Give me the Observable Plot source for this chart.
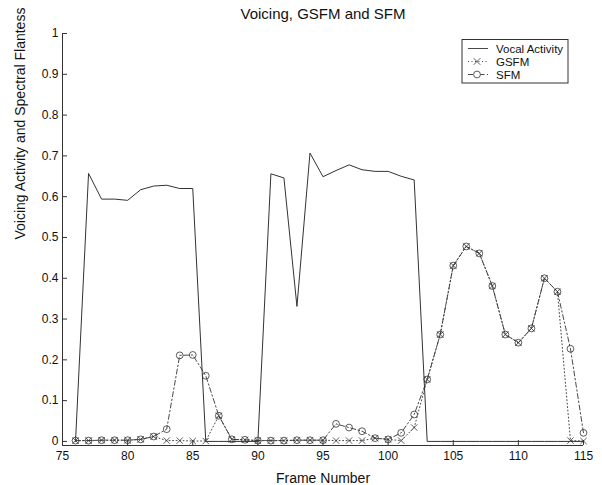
<!DOCTYPE html>
<html><head><meta charset="utf-8">
<script src="https://cdn.jsdelivr.net/npm/d3@7"></script>
<script src="https://cdn.jsdelivr.net/npm/@observablehq/plot@0.6"></script>
<style>body{margin:0;background:#fff;} #chart{width:602px;height:485px;}</style>
</head><body><div id="chart"></div>
<script>
const frames = [76,77,78,79,80,81,82,83,84,85,86,87,88,89,90,91,92,93,94,95,96,97,98,99,100,101,102,103,104,105,106,107,108,109,110,111,112,113,114,115];
const vocal = [0,0.657,0.594,0.594,0.591,0.617,0.626,0.628,0.620,0.620,0,0,0,0,0,0.656,0.646,0.331,0.707,0.649,0.664,0.678,0.666,0.662,0.662,0.650,0.641,0,0,0,0,0,0,0,0,0,0,0,0,0];
const gsfm = [0.002,0.002,0.003,0.003,0.003,0.005,0.012,0.002,0.002,0.001,0.001,0.063,0.005,0.004,0.002,0.002,0.002,0.003,0.003,0.003,0.002,0.002,0.002,0.008,0.005,0.002,0.034,0.152,0.262,0.431,0.478,0.461,0.381,0.262,0.242,0.277,0.400,0.367,0.002,0.001];
const sfm = [0.002,0.002,0.003,0.003,0.003,0.005,0.012,0.030,0.211,0.212,0.161,0.063,0.005,0.004,0.002,0.002,0.002,0.003,0.003,0.003,0.043,0.034,0.025,0.008,0.005,0.021,0.066,0.152,0.262,0.431,0.478,0.461,0.381,0.262,0.242,0.277,0.400,0.367,0.227,0.021];
const xTicks = [75,80,85,90,95,100,105,110,115];
const yTicks = [0,0.1,0.2,0.3,0.4,0.5,0.6,0.7,0.8,0.9,1];
const xDomain = [75,115];
const yDomain = [-0.01,1];
const seriesNames = ["Vocal Activity","GSFM","SFM"];
const titleText = "Voicing, GSFM and SFM";
const xLabel = "Frame Number";
const yLabel = "Voicing Activity and Spectral Flantess";

const rows = frames.map((f,i)=>({frame:f, vocal:vocal[i], gsfm:gsfm[i], sfm:sfm[i]}));
const ink = "#333";
const font = "'Liberation Sans', Arial, sans-serif";
const W = 602, H = 485, mL = 62, mR = 19, mT = 33, mB = 40;
const dashDot = "5,2.5,1.5,2.5";
const dotted = "1,2.5";

const plot = Plot.plot({
  width: W, height: H, marginLeft: mL, marginRight: mR, marginTop: mT, marginBottom: mB,
  style: {fontFamily: font, background: "#fff", color: ink, overflow: "visible"},
  x: {domain: xDomain},
  y: {domain: yDomain},
  marks: [
    Plot.ruleX([xDomain[0]], {stroke: ink, strokeWidth: 1}),
    Plot.ruleY([yDomain[0]], {stroke: ink, strokeWidth: 1}),
    Plot.axisX({ticks: xTicks, tickSize: -5, tickPadding: 11, fontSize: 12, label: null, tickFormat: d => String(d), stroke: ink, fill: "#111"}),
    Plot.axisY({ticks: yTicks, tickSize: -5, tickPadding: 9, fontSize: 12, label: null, tickFormat: d => String(d), stroke: ink, fill: "#111"}),
    Plot.line(rows, {x: "frame", y: "vocal", stroke: ink, strokeWidth: 1}),
    Plot.line(rows, {x: "frame", y: "gsfm", stroke: ink, strokeWidth: 0.9, strokeDasharray: dotted}),
    Plot.dot(rows, {x: "frame", y: "gsfm", symbol: "times", r: 3, stroke: ink, strokeWidth: 0.8}),
    Plot.line(rows, {x: "frame", y: "sfm", stroke: ink, strokeWidth: 0.9, strokeDasharray: dashDot}),
    Plot.dot(rows, {x: "frame", y: "sfm", symbol: "circle", r: 3.4, stroke: ink, strokeWidth: 0.8, fill: "none"}),
    Plot.text([titleText], {text: d => d, frameAnchor: "top", dy: -19, fontSize: 15, fill: "#111", lineAnchor: "middle"}),
    Plot.text([xLabel], {text: d => d, frameAnchor: "bottom", dy: 33, fontSize: 14, fill: "#111", lineAnchor: "middle"}),
    Plot.text([yLabel], {text: d => d, frameAnchor: "left", dx: -42, rotate: -90, fontSize: 14, fill: "#111", lineAnchor: "middle"})
  ]
});

// legend
const svg = d3.select(plot);
const lx = W - mR - 15 - 106, ly = 39.5;
const lg = svg.append("g").attr("font-family", font).attr("font-size", 11.5);
lg.append("rect").attr("x", lx).attr("y", ly).attr("width", 106).attr("height", 43.5)
  .attr("fill", "#fff").attr("stroke", ink).attr("stroke-width", 1);
const styles = [
  {dash: null, sym: null},
  {dash: dotted, sym: "times"},
  {dash: dashDot, sym: "circle"}
];
seriesNames.forEach((name, i) => {
  const y = ly + 9 + i * 13;
  const x0 = lx + 6, x1 = lx + 26, xm = lx + 15;
  lg.append("line").attr("x1", x0).attr("x2", x1).attr("y1", y).attr("y2", y)
    .attr("stroke", ink).attr("stroke-width", 0.9).attr("stroke-dasharray", styles[i].dash);
  if (styles[i].sym === "circle") {
    lg.append("circle").attr("cx", xm).attr("cy", y).attr("r", 3.4).attr("fill", "#fff").attr("stroke", ink).attr("stroke-width", 0.8);
  } else if (styles[i].sym === "times") {
    lg.append("path").attr("d", d3.symbol(d3.symbolTimes, 30)()).attr("transform", `translate(${xm},${y})`)
      .attr("fill", "none").attr("stroke", ink).attr("stroke-width", 0.8);
  }
  lg.append("text").attr("x", lx + 34).attr("y", y).attr("dy", "0.35em")
    .attr("text-anchor", "start").attr("fill", "#111").text(name);
});

document.getElementById("chart").appendChild(plot);
</script>
</body></html>
